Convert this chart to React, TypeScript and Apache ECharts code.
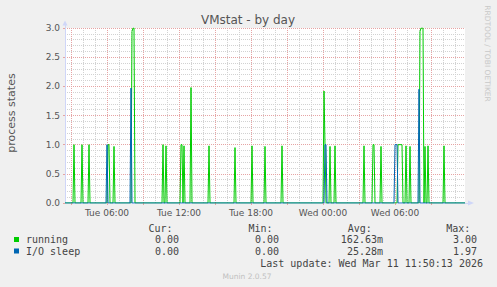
import React, { useEffect, useRef } from "react";
import * as echarts from "echarts";

// Time axis: one sample every 5 minutes, Tue 02:30 .. Wed 11:50
const START_MIN = 150;
const STEP_MIN = 5;
const SAMPLE_COUNT = 401;

// Non-zero samples (all other samples are 0)
const runningSpikes: [string, number][] = [
  ["Tue 03:15", 1.0],
  ["Tue 03:55", 1.0],
  ["Tue 04:30", 1.0],
  ["Tue 06:05", 1.0],
  ["Tue 06:10", 1.0],
  ["Tue 06:35", 0.97],
  ["Tue 08:05", 2.94],
  ["Tue 08:10", 3.0],
  ["Tue 08:15", 3.0],
  ["Tue 10:40", 1.0],
  ["Tue 10:55", 0.98],
  ["Tue 12:10", 1.0],
  ["Tue 12:15", 1.0],
  ["Tue 12:25", 0.98],
  ["Tue 13:00", 1.98],
  ["Tue 14:30", 0.98],
  ["Tue 16:40", 0.95],
  ["Tue 18:05", 0.98],
  ["Tue 19:10", 0.97],
  ["Tue 20:35", 0.98],
  ["Wed 00:05", 1.92],
  ["Wed 00:10", 1.0],
  ["Wed 00:35", 0.97],
  ["Wed 01:00", 0.98],
  ["Wed 03:25", 0.98],
  ["Wed 04:10", 1.0],
  ["Wed 04:15", 1.0],
  ["Wed 04:50", 0.97],
  ["Wed 06:15", 1.0],
  ["Wed 06:20", 1.0],
  ["Wed 06:25", 1.0],
  ["Wed 06:30", 1.0],
  ["Wed 06:35", 1.0],
  ["Wed 06:55", 0.98],
  ["Wed 07:15", 0.97],
  ["Wed 08:05", 2.94],
  ["Wed 08:10", 3.0],
  ["Wed 08:15", 3.0],
  ["Wed 08:20", 3.0],
  ["Wed 08:30", 0.97],
  ["Wed 08:45", 0.98],
  ["Wed 10:05", 0.98],
];

const ioSleepSpikes: [string, number][] = [
  ["Tue 06:00", 1.0],
  ["Tue 08:00", 1.97],
  ["Wed 00:10", 1.0],
  ["Wed 00:15", 1.0],
  ["Wed 06:00", 1.0],
  ["Wed 06:05", 1.0],
  ["Wed 06:10", 1.0],
  ["Wed 08:00", 1.95],
];

const yMin = 0;
const yMax = 3;
const yInterval = 0.5;

const seriesNames = ["running", "I/O sleep"];
const seriesColors = ["#00cc00", "#0066b3"];
const curValues = ["0.00", "0.00"];
const minValues = ["0.00", "0.00"];
const avgValues = ["162.63m", "25.28m"];
const maxValues = ["3.00", "1.97"];

const titleText = "VMstat - by day";
const yAxisTitle = "process states";
const lastUpdate = "Last update: Wed Mar 11 11:50:13 2026";
const footer = "Munin 2.0.57";
const credit = "RRDTOOL / TOBI OETIKER";

function labelFor(t: number): string {
  const day = t < 1440 ? "Tue" : "Wed";
  const m = t % 1440;
  const hh = String(Math.floor(m / 60)).padStart(2, "0");
  const mm = String(m % 60).padStart(2, "0");
  return `${day} ${hh}:${mm}`;
}

const categories = Array.from({ length: SAMPLE_COUNT }, (_, i) => labelFor(START_MIN + i * STEP_MIN));
const minuteOf = (i: number) => START_MIN + i * STEP_MIN;

function expand(spikes: [string, number][]): number[] {
  const m = new Map(spikes);
  return categories.map((c) => m.get(c) ?? 0);
}

const GRID_LEFT = 65;
const GRID_TOP = 28;
const GRID_W = 400;
const GRID_H = 175;

const MONO = "'DejaVu Sans Mono', monospace";
const SANS = "'DejaVu Sans', sans-serif";
const AXIS_COLOR = "#cfd6f8";
const MAJOR = "#e6a4a4";
const MINOR = "#d2d2d2";

export default function App() {
  const ref = useRef<HTMLDivElement>(null);
  useEffect(() => {
    if (!ref.current) return;
    const chart = echarts.init(ref.current, undefined, { renderer: "svg" });

    const legendText = (text: string, x: number, y: number, align: string) => ({
      type: "text",
      x,
      y,
      style: {
        text,
        fill: "#444",
        font: `10px ${MONO}`,
        textAlign: align,
        textVerticalAlign: "middle",
      },
    });

    const graphics: any[] = [
      {
        type: "text",
        x: 248,
        y: 19.5,
        style: { text: titleText, fill: "#555", font: `12px ${SANS}`, textAlign: "center", textVerticalAlign: "middle" },
      },
      {
        type: "text",
        x: 11,
        y: 113,
        rotation: Math.PI / 2,
        style: { text: yAxisTitle, fill: "#555", font: `11px ${SANS}`, textAlign: "center", textVerticalAlign: "middle" },
      },
      {
        type: "text",
        x: 487,
        y: 53.5,
        rotation: -Math.PI / 2,
        style: { text: credit, fill: "#c8c8c8", font: `7.5px ${SANS}`, textAlign: "center", textVerticalAlign: "middle" },
      },
      // axis extensions
      {
        type: "line",
        shape: { x1: GRID_LEFT + 0.5, y1: GRID_TOP, x2: GRID_LEFT + 0.5, y2: GRID_TOP - 3 },
        style: { stroke: AXIS_COLOR, lineWidth: 1 },
      },
      {
        type: "line",
        shape: { x1: GRID_LEFT + GRID_W, y1: GRID_TOP + GRID_H + 0.5, x2: GRID_LEFT + GRID_W + 3, y2: GRID_TOP + GRID_H + 0.5 },
        style: { stroke: AXIS_COLOR, lineWidth: 1 },
      },
      legendText("Cur:", 148.5, 228.7, "left"),
      legendText("Min:", 248.5, 228.7, "left"),
      legendText("Avg:", 347.8, 228.7, "left"),
      legendText("Max:", 446.2, 228.7, "left"),
      legendText(lastUpdate, 483, 263.3, "right"),
      {
        type: "text",
        x: 247,
        y: 276.8,
        style: { text: footer, fill: "#c0c0c0", font: `7.5px ${SANS}`, textAlign: "center", textVerticalAlign: "middle" },
      },
    ];
    const rowY = [239.5, 251];
    seriesNames.forEach((name, k) => {
      graphics.push({
        type: "rect",
        shape: { x: 14, y: rowY[k] - 2.5, width: 5, height: 5 },
        style: { fill: seriesColors[k] },
      });
      graphics.push(legendText(name, 26, rowY[k], "left"));
      graphics.push(legendText(curValues[k], 179, rowY[k], "right"));
      graphics.push(legendText(minValues[k], 279, rowY[k], "right"));
      graphics.push(legendText(avgValues[k], 383, rowY[k], "right"));
      graphics.push(legendText(maxValues[k], 477, rowY[k], "right"));
    });

    chart.setOption({
      animation: false,
      backgroundColor: "#f0f0f0",
      grid: {
        left: GRID_LEFT,
        top: GRID_TOP,
        width: GRID_W,
        height: GRID_H,
        show: true,
        backgroundColor: "#ffffff",
        borderWidth: 0,
      },
      xAxis: [
        {
          type: "category",
          data: categories,
          boundaryGap: false,
          position: "bottom",
          z: 3,
          axisLine: {
            show: true,
            lineStyle: { color: AXIS_COLOR, width: 1 },
            symbol: ["none", "triangle"],
            symbolSize: [5, 6],
            symbolOffset: [0, 6],
          },
          axisTick: {
            show: true,
            length: 2,
            interval: (i: number) => minuteOf(i) % 180 === 0,
            lineStyle: { color: MAJOR },
          },
          axisLabel: {
            show: true,
            interval: (i: number) => minuteOf(i) % 360 === 0,
            color: "#555",
            fontFamily: SANS,
            fontSize: 9,
            margin: 5,
          },
          splitLine: {
            show: true,
            interval: (i: number) => minuteOf(i) % 180 === 0,
            lineStyle: { color: MAJOR, type: [1, 1], width: 1 },
          },
        },
        {
          type: "category",
          data: categories,
          boundaryGap: false,
          position: "bottom",
          axisLine: { show: false },
          axisTick: { show: false },
          axisLabel: { show: false },
          splitLine: {
            show: true,
            interval: (i: number) => minuteOf(i) % 60 === 0 && minuteOf(i) % 180 !== 0,
            lineStyle: { color: MINOR, type: [1, 1], width: 1 },
          },
        },
      ],
      yAxis: {
        type: "value",
        min: yMin,
        max: yMax,
        interval: yInterval,
        z: 3,
        axisLine: {
          show: true,
          lineStyle: { color: AXIS_COLOR, width: 1 },
          symbol: ["none", "triangle"],
          symbolSize: [5, 5],
          symbolOffset: [0, 5],
        },
        axisTick: { show: true, length: 2, lineStyle: { color: MAJOR } },
        axisLabel: {
          color: "#555",
          fontFamily: SANS,
          fontSize: 9,
          margin: 5,
          formatter: (v: number) => v.toFixed(1),
        },
        splitLine: { show: true, lineStyle: { color: MAJOR, type: [1, 1], width: 1 } },
        minorTick: { show: false, splitNumber: 5 },
        minorSplitLine: { show: true, lineStyle: { color: MINOR, type: [1, 1], width: 1 } },
      },
      series: [
        {
          name: seriesNames[0],
          type: "line",
          data: expand(runningSpikes),
          showSymbol: false,
          symbol: "none",
          lineStyle: { color: seriesColors[0], width: 1 },
          itemStyle: { color: seriesColors[0] },
          z: 4,
        },
        {
          name: seriesNames[1],
          type: "line",
          data: expand(ioSleepSpikes),
          showSymbol: false,
          symbol: "none",
          lineStyle: { color: seriesColors[1], width: 1 },
          itemStyle: { color: seriesColors[1] },
          z: 5,
        },
      ],
      graphic: graphics,
    });

    return () => chart.dispose();
  }, []);

  return (
    <div
      ref={ref}
      style={{ position: "fixed", left: 0, top: 0, width: 497, height: 287 }}
    />
  );
}
